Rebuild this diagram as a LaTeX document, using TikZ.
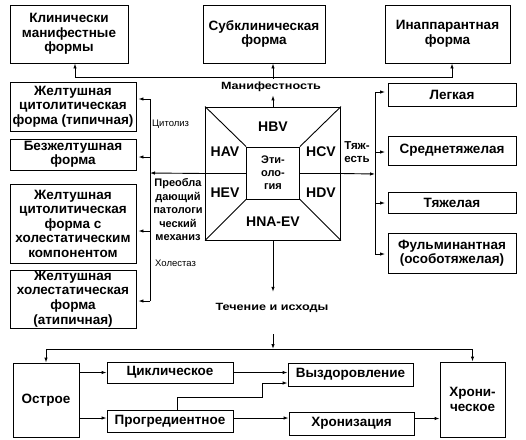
\documentclass[tikz,border=0pt]{standalone}
\usepackage{fontspec}
\setmainfont{Liberation Sans}
\newfontfamily\widesans[FakeStretch=1.2]{Liberation Sans}
\usetikzlibrary{arrows.meta}

\tikzstyle{box}=[draw,line width=0.9pt,inner sep=0.5pt,align=center,font=\fontsize{13.5}{14.5}\selectfont\bfseries]
\tikzstyle{virus}=[font=\fontsize{14}{16}\selectfont\bfseries]
\tikzstyle{title}=[font=\widesans\fontsize{10.5}{12}\selectfont\bfseries,align=center]
\tikzstyle{note}=[font=\fontsize{9.5}{11}\selectfont,anchor=west,inner sep=0pt]
\tikzstyle{line}=[draw,line width=0.9pt]
\tikzstyle{arrow}=[draw,line width=0.9pt,-{Latex[length=5pt,width=3.5pt]}]

\begin{document}
\begin{tikzpicture}[x=1pt,y=-1pt]
                  \useasboundingbox (0,0) rectangle (526,439);
                  % Forms, severity and outcomes as boxes
                  \foreach \pos/\w/\h/\name/\la in {{(69,34)/118/58/klin/{Клинически\\манифестные\\формы}},
                  {(264,34)/122/58/subkl/{Субклиническая\\форма}},
                  {(447.5,34)/125/58/inapp/{Инаппарантная\\форма}},
                  {(73,106.5)/126/49/zhcit/{Желтушная\\цитолитическая\\форма (типичная)}},
                  {(73,154.5)/126/31/bezzh/{Безжелтушная\\форма}},
                  {(73,223.5)/126/79/zhhol/{Желтушная\\цитолитическая\\форма с\\холестатическим\\компонентом}},
                  {(73,299)/126/58/zhat/{Желтушная\\холестатическая\\форма\\(атипичная)}},
                  {(452,94.5)/128/23/legk/{Легкая}},
                  {(452,150.5)/128/29/sred/{Среднетяжелая}},
                  {(452,202.5)/128/21/tyazh/{Тяжелая}},
                  {(452,253)/128/40/fulm/{Фульминантная\\(особотяжелая)}},
                  {(46,400)/66/74/ostr/{Острое}},
                  {(170,372.5)/126/21/cikl/{Циклическое}},
                  {(170,421)/126/22/progr/{Прогредиентное}},
                  {(350.5,374.5)/125/23/vyzd/{Выздоровление}},
                  {(351.5,423.5)/125/23/hron/{Хронизация}},
                  {(472.5,399.5)/65/75/hronich/{Хрони-\\ческое}}}
                        \node[box,minimum width=\w pt,minimum height=\h pt] (\name) at \pos {\la};
                  % The etiology square
                  \node[draw,line width=0.9pt,minimum width=135pt,minimum height=133pt] (sq) at (273,173.5) {};
                  \node[box,minimum width=53pt,minimum height=52pt,font=\fontsize{11}{13}\selectfont\bfseries] (et) at (273,173) {Эти-\\оло-\\гия};
                  \foreach \c in {north west,north east,south west,south east}
                  \path[line] (sq.\c) -- (et.\c);
                  \path[line] (sq.west) -- (sq.west -| et.west);
                  \path[line] (sq.east) -- (sq.east -| et.east);
                  \foreach \pos/\name/\la in {{(273,127)/hbv/HBV},{(225,152)/hav/HAV},{(321,152)/hcv/HCV},
                  {(225,193)/hev/HEV},{(321,193)/hdv/HDV},{(273,222)/hna/HNA-EV}}
                        \node[virus] (\name) at \pos {\la};
                  % Labels
                  \node[title] (mani) at (271,87) {Манифестность};
                  \node[title] (tech) at (272,308) {Течение и исходы};
                  \node[title,font=\fontsize{11.5}{13}\selectfont\bfseries] (sev) at (357,152) {Тяж-\\есть};
                  \node[title,font=\fontsize{11}{13.5}\selectfont\bfseries] (mech) at (178,210) {Преобла\\дающий\\патологи\\ческий\\механиз};
                  \node[note] (cit) at (152,124) {Цитолиз};
                  \node[note] (hol) at (155,263) {Холестаз};
                  % Manifestness
                  \coordinate (top) at (272,77);
                  \path[arrow] (sq.north) -- (sq.north |- mani.south);
                  \path[arrow] (sq.north |- mani.north) -- (sq.north |- subkl.south);
                  \path[arrow] (top) -| ([xshift=6pt]klin.south);
                  \path[arrow] (top) -| ([xshift=4.5pt]inapp.south);
                  % Pathological mechanism
                  \coordinate (lb) at (150,173);
                  \path[arrow] (sq.west) -- (lb);
                  \path[line] (150,99) -- (150,301);
                  \foreach \y/\name in {99/zhcit,157/bezzh,231/zhhol,301/zhat}{
                        \coordinate (l\name) at (150,\y);
                        \path[arrow,shorten >=2pt] (l\name) -- (l\name -| \name.east);}
                  % Severity
                  \coordinate (rb) at (375,174);
                  \path[arrow] (sq.east) -- (rb);
                  \path[line] (375,92) -- (375,254);
                  \foreach \y/\name in {92/legk,152/sred,203/tyazh,254/fulm}{
                        \coordinate (r\name) at (375,\y);
                        \path[arrow,shorten >=2.5pt] (r\name) -- (r\name -| \name.west);}
                  % Course and outcomes
                  \coordinate (bl) at (273,349);
                  \path[arrow,shorten >=8pt] (sq.south) -- (sq.south |- tech.north);
                  \path[arrow,shorten <=18pt] (sq.south |- tech.south) -- (bl);
                  \path[arrow] (bl) -| (ostr.north);
                  \path[arrow] (bl) -| (hronich.north);
                  \path[arrow] (ostr.east |- cikl.west) -- (cikl.west);
                  \path[arrow] ([yshift=3pt]ostr.east |- progr.west) -- ([yshift=3pt]progr.west);
                  \path[arrow] (cikl.east) -- (cikl.east -| vyzd.west);
                  \path[arrow] ([xshift=7pt]progr.north) -- ++(0,-12) -- ++(85,0) |- ([yshift=-8.5pt]vyzd.west);
                  \path[arrow] ([yshift=3pt]progr.east) -- ([yshift=3pt]progr.east -| hron.west);
                  \path[arrow] ([yshift=5pt]hron.east) -- ([yshift=5pt]hron.east -| hronich.west);
            \end{tikzpicture}
\end{document}
